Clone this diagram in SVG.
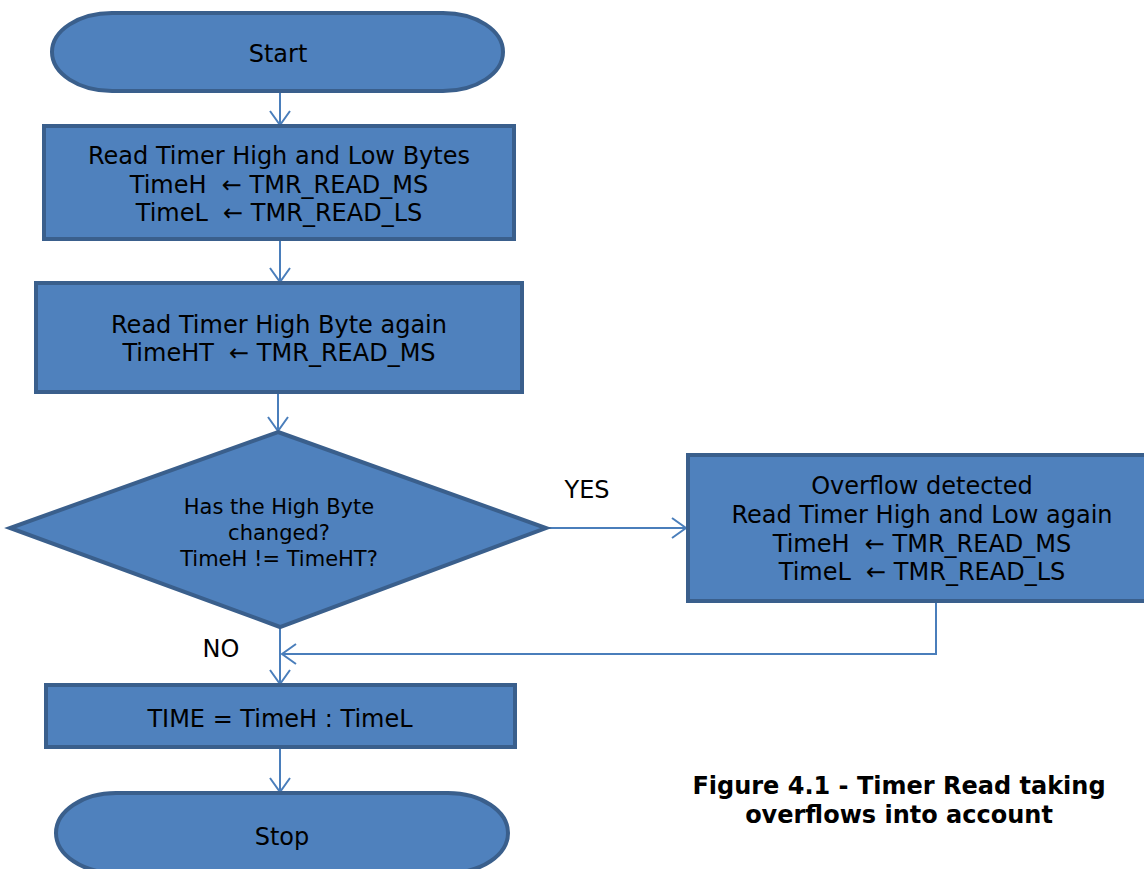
<svg xmlns="http://www.w3.org/2000/svg" width="1144" height="869" viewBox="0 0 1144 869">
<style>
.n{fill:#4F81BD;stroke:#3A5F8C;stroke-width:4}
.t{font-family:"DejaVu Sans","Liberation Sans",sans-serif;font-size:24px;fill:#000;text-anchor:middle;white-space:pre}
.d{font-size:21px}
.c{stroke:#4A7EBB;stroke-width:2;fill:none}
.cap{font-family:"DejaVu Sans","Liberation Sans",sans-serif;font-size:24px;font-weight:bold;text-anchor:middle}
</style>
<defs>
<marker id="a" markerUnits="userSpaceOnUse" markerWidth="20" markerHeight="24" refX="15" refY="11" orient="auto">
<path d="M1,1 L15,11 L1,21" fill="none" stroke="#4A7EBB" stroke-width="2"/>
</marker>
<clipPath id="dc"><rect x="0" y="420" width="560" height="146"/></clipPath>
</defs>
<rect width="1144" height="869" fill="#fff"/>
<g id="connectors">
<path class="c" d="M280,91 V125" marker-end="url(#a)"/>
<path class="c" d="M280,239 V282" marker-end="url(#a)"/>
<path class="c" d="M278,392 V431" marker-end="url(#a)"/>
<path class="c" d="M546,528 H686" marker-end="url(#a)"/>
<path class="c" d="M936,601 V654 H282" marker-end="url(#a)"/>
<path class="c" d="M280,627 V684" marker-end="url(#a)"/>
<path class="c" d="M280,747 V792" marker-end="url(#a)"/>
<text class="t" x="587" y="498">YES</text>
<text class="t" x="221" y="657">NO</text>
</g>
<g id="start">
<rect class="n" x="52" y="13" width="451" height="78" rx="60" ry="39"/>
<text class="t" x="278" y="62">Start</text>
</g>
<g id="read1">
<rect class="n" x="44" y="126" width="470" height="113"/>
<text class="t" x="279" y="164">Read Timer High and Low Bytes</text>
<text class="t" x="279" y="193">TimeH&#160; ← TMR_READ_MS</text>
<text class="t" x="279" y="221">TimeL&#160; ← TMR_READ_LS</text>
</g>
<g id="read2">
<rect class="n" x="36" y="283" width="486" height="109"/>
<text class="t" x="279" y="333">Read Timer High Byte again</text>
<text class="t" x="279" y="361">TimeHT&#160; ← TMR_READ_MS</text>
</g>
<g id="decision">
<polygon class="n" points="278,432 546,528 280,627 10,528"/>
<g clip-path="url(#dc)">
<text class="t d" x="279" y="514">Has the High Byte</text>
<text class="t d" x="279" y="540">changed?</text>
<text class="t d" x="279" y="566">TimeH != TimeHT?</text>
</g>
</g>
<g id="overflow">
<rect class="n" x="688" y="455" width="470" height="146"/>
<text class="t" x="922" y="494">Overflow detected</text>
<text class="t" x="922" y="523">Read Timer High and Low again</text>
<text class="t" x="922" y="552">TimeH&#160; ← TMR_READ_MS</text>
<text class="t" x="922" y="580">TimeL&#160; ← TMR_READ_LS</text>
</g>
<g id="time">
<rect class="n" x="46" y="685" width="469" height="62"/>
<text class="t" x="280" y="727">TIME = TimeH : TimeL</text>
</g>
<g id="stop">
<rect class="n" x="56" y="793" width="452" height="80" rx="60" ry="40"/>
<text class="t" x="282" y="845">Stop</text>
</g>
<g id="caption">
<text class="cap" x="899" y="794">Figure 4.1 - Timer Read taking</text>
<text class="cap" x="899" y="823">overflows into account</text>
</g>
</svg>
